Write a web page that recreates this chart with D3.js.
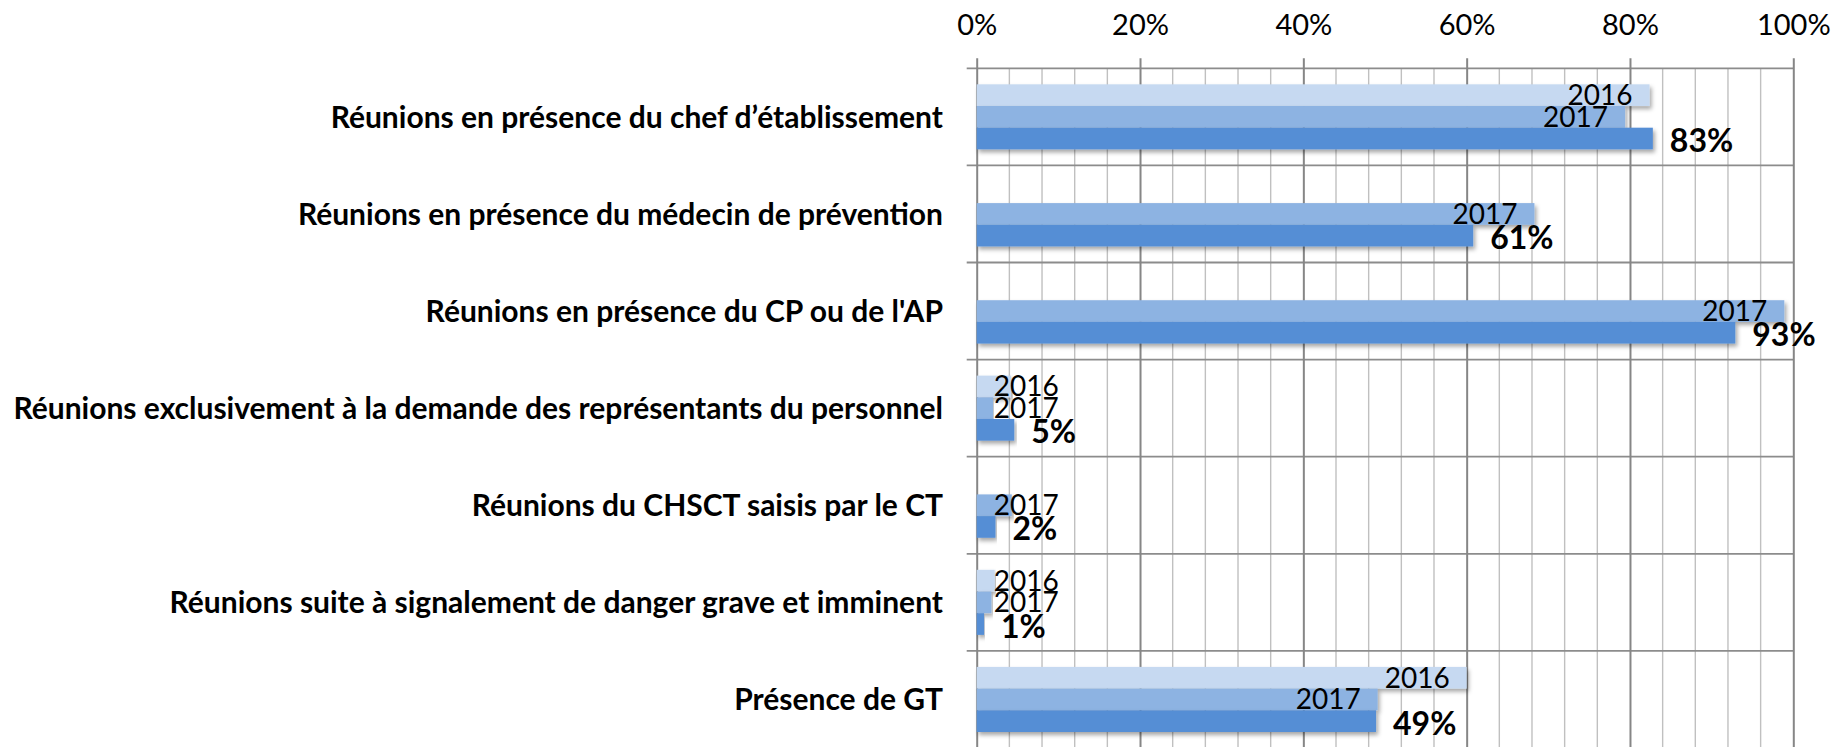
<!DOCTYPE html>
<html>
<head>
<meta charset="utf-8">
<script src="https://cdn.jsdelivr.net/npm/d3@7"></script>
<style>
  body { margin: 0; background: #fff; }
  text { font-family: Lato, "Open Sans", sans-serif; fill: #000; }
</style>
</head>
<body>
<div id="chart"></div>
<script>
const width = 1833, height = 747;
const plotLeft = 976.7, plotRight = 1793.3, plotTop = 68.3, plotBottom = 748;

// data
const categories = [
  "Réunions en présence du chef d’établissement",
  "Réunions en présence du médecin de prévention",
  "Réunions en présence du CP ou de l'AP",
  "Réunions exclusivement à la demande des représentants du personnel",
  "Réunions du CHSCT saisis par le CT",
  "Réunions suite à signalement de danger grave et imminent",
  "Présence de GT"
];
const seriesNames = ["2016", "2017", "2018"];
const values2016 = [0.824, null, null, 0.042, null, 0.022, 0.600];
const values2017 = [0.794, 0.683, 0.989, 0.020, 0.043, 0.018, 0.491];
const values2018 = [0.828, 0.608, 0.929, 0.046, 0.023, 0.009, 0.489];
const xTicks = [0, 0.2, 0.4, 0.6, 0.8, 1];

const colors = ["#c6d9f1", "#8db3e2", "#558ed5"];
const allValues = [values2016, values2017, values2018];

var rows = [];
categories.forEach((c, i) => {
  seriesNames.forEach((s, j) => {
    if (allValues[j][i] != null) rows.push({cat: c, series: s, idx: j, value: allValues[j][i]});
  });
});

var x = d3.scaleLinear().domain([0, 1]).range([plotLeft, plotRight]);
var y0 = d3.scaleBand().domain(categories).range([plotTop, plotBottom])
  .paddingInner(0.33).paddingOuter(0.165);
var y1 = d3.scaleBand().domain(seriesNames).range([0, y0.bandwidth()]);

const svg = d3.select("#chart").append("svg")
  .attr("width", width).attr("height", height);

svg.append("rect").attr("width", width).attr("height", height).attr("fill", "#fff");

var defs = svg.append("defs");
defs.append("filter").attr("id", "shadow")
  .attr("x", "-5%").attr("y", "-30%").attr("width", "110%").attr("height", "170%")
  .append("feDropShadow")
  .attr("dx", 2).attr("dy", 3).attr("stdDeviation", 2.2)
  .attr("flood-color", "#000").attr("flood-opacity", 0.35);

// minor vertical gridlines every 4%
svg.append("g").selectAll("line")
  .data(d3.range(0, 26).map(d => d * 0.04).filter(d => Math.round(d * 100) % 20 != 0))
  .enter().append("line")
  .attr("x1", d => x(d)).attr("x2", d => x(d))
  .attr("y1", plotTop).attr("y2", plotBottom)
  .attr("stroke", "#c0c0c0").attr("stroke-width", 1.4);

// category boundaries with small ticks to the left
var edges = categories.map(c => y0(c) - y0.step() * y0.paddingInner() / 2);
edges.push(plotBottom);
svg.append("g").selectAll("line")
  .data(edges)
  .enter().append("line")
  .attr("x1", plotLeft - 10).attr("x2", plotRight)
  .attr("y1", d => d).attr("y2", d => d)
  .attr("stroke", "#8c8c8c").attr("stroke-width", 1.8);

// major gridlines + top axis
var xAxis = d3.axisTop(x).tickValues(xTicks).tickFormat(d3.format(".0%"))
  .tickSize(10).tickPadding(23);
var axisG = svg.append("g").attr("transform", "translate(0," + plotTop + ")").call(xAxis);
axisG.select(".domain").remove();
axisG.selectAll(".tick line").attr("stroke", "#868686").attr("stroke-width", 2)
  .attr("y1", plotBottom - plotTop);
axisG.selectAll(".tick text").attr("font-size", 29).attr("font-family", "Lato").attr("fill", "#000");

// bars
svg.append("g").selectAll("rect")
  .data(rows)
  .enter().append("rect")
  .attr("x", x(0))
  .attr("y", d => y0(d.cat) + y1(d.series))
  .attr("width", d => x(d.value) - x(0))
  .attr("height", y1.bandwidth())
  .attr("fill", d => colors[d.idx])
  .attr("filter", "url(#shadow)");

// category labels
svg.append("g").selectAll("text")
  .data(categories)
  .enter().append("text")
  .attr("x", 943)
  .attr("y", d => y0(d) + y0.bandwidth() / 2 + 11)
  .attr("text-anchor", "end")
  .attr("font-size", 30)
  .attr("font-weight", "bold")
  .text(d => d);

// series name labels (inside end)
var nameRows = rows.filter(d => d.idx < 2);
svg.append("g").selectAll("text")
  .data(nameRows)
  .enter().append("text")
  .attr("y", d => y0(d.cat) + y1(d.series) + y1.bandwidth() / 2 + 10)
  .attr("text-anchor", "end")
  .attr("font-size", 28)
  .text(d => d.series)
  .attr("x", function (d) {
    var w = this.getComputedTextLength();
    return Math.max(x(d.value) - 17, x(0) + 17 + w);
  });

// value labels (outside end, bold)
svg.append("g").selectAll("text")
  .data(rows.filter(d => d.idx == 2))
  .enter().append("text")
  .attr("x", d => x(d.value) + 17)
  .attr("y", d => y0(d.cat) + y1(d.series) + y1.bandwidth() / 2 + 13.5)
  .attr("font-size", 32)
  .attr("font-weight", "bold")
  .text(d => d3.format(".0%")(d.value));
</script>
</body>
</html>
